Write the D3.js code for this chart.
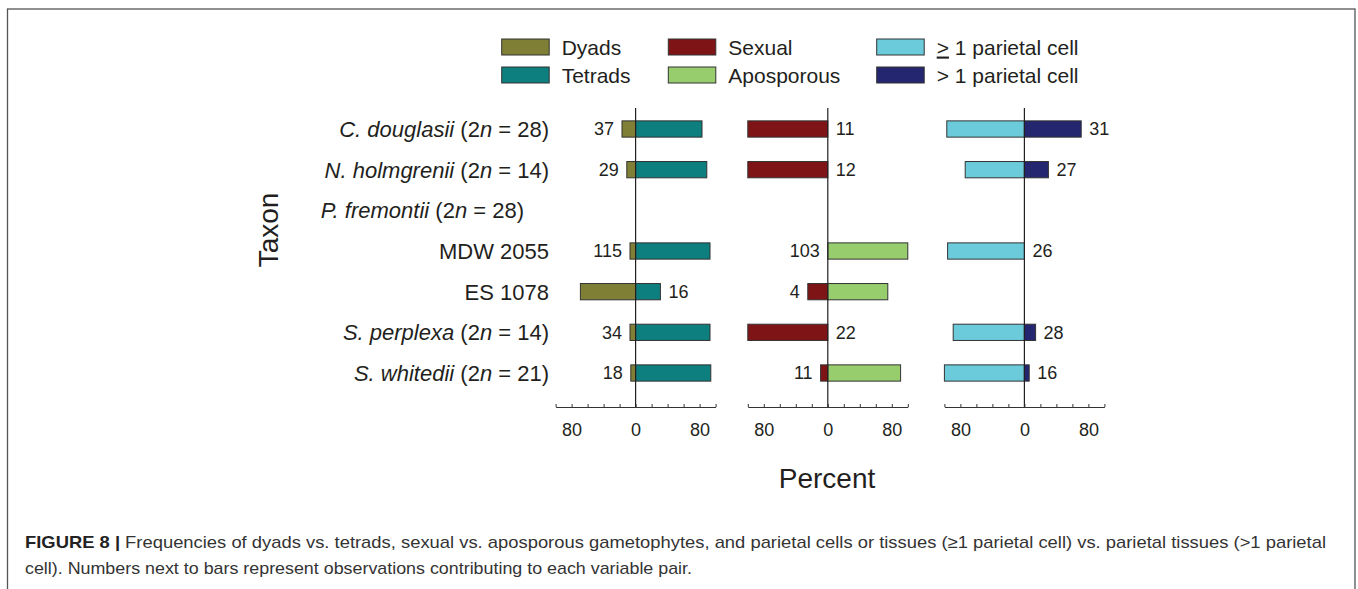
<!DOCTYPE html>
<html lang="en">
<head>
    <meta charset="UTF-8">
    <title>Figure 8</title>
    <script src="https://d3js.org/d3.v7.min.js"></script>
    <style>
        body {
            margin: 0;
            padding: 0;
            background: #fff;
            font-family: "Liberation Sans", Arial, sans-serif;
        }
        svg text {
            fill: #231f20;
        }
    </style>
</head>
<body>
    <svg id="chart" width="1358" height="589"></svg>

    <script>
        // data (percent per taxon)
        const taxa = ['C. douglasii', 'N. holmgrenii', 'P. fremontii', 'MDW 2055', 'ES 1078', 'S. perplexa', 'S. whitedii'];
        const ploidy = ['28', '14', '28', null, null, '14', '21'];
        const italicName = [true, true, true, false, false, true, true];

        const dyads      = [17, 11, null, 7, 69, 7, 6];
        const tetrads    = [83, 89, null, 93, 31, 93, 94];
        const sexual     = [100, 100, null, 0, 25, 100, 9];
        const aposporous = [0, 0, null, 100, 75, 0, 91];
        const geOneCell  = [97, 74, null, 96, null, 89, 100];
        const gtOneCell  = [71, 30, null, 0, null, 14, 6];

        // observation counts and which side of the bar they sit on
        const counts1 = [37, 29, null, 115, 16, 34, 18];
        const sides1  = ['left', 'left', null, 'left', 'right', 'left', 'left'];
        const counts2 = [11, 12, null, 103, 4, 22, 11];
        const sides2  = ['right', 'right', null, 'left', 'left', 'right', 'left'];
        const counts3 = [31, 27, null, 26, null, 28, 16];
        const sides3  = ['right', 'right', null, 'right', null, 'right', 'right'];

        const tickValues = [-100, -80, -60, -40, -20, 0, 20, 40, 60, 80, 100];
        const labelledTicks = [-80, 0, 80];

        const legendItems = [
            {label: 'Dyads', color: '#7f7f35'},
            {label: 'Tetrads', color: '#0e7f7f'},
            {label: 'Sexual', color: '#7f1416'},
            {label: 'Aposporous', color: '#98cd6e'},
            {label: '1 parietal cell', color: '#6bcbdb', sign: '>', underline: true},
            {label: '1 parietal cell', color: '#24266f', sign: '>', underline: false}
        ];

        const panels = [
            {zero: 635.6, left: dyads, right: tetrads, leftColor: '#7f7f35', rightColor: '#0e7f7f', counts: counts1, sides: sides1},
            {zero: 827.8, left: sexual, right: aposporous, leftColor: '#7f1416', rightColor: '#98cd6e', counts: counts2, sides: sides2},
            {zero: 1024.4, left: geOneCell, right: gtOneCell, leftColor: '#6bcbdb', rightColor: '#24266f', counts: counts3, sides: sides3}
        ];

        const svg = d3.select('#chart');

        // figure frame
        svg.append('rect')
            .attr('x', 7.5).attr('y', 9)
            .attr('width', 1347.5).attr('height', 600)
            .attr('fill', 'none')
            .attr('stroke', '#555')
            .attr('stroke-width', 1.3);

        const axisY = 407;
        const y = d3.scaleBand()
            .domain(taxa)
            .range([108.67, 393.33])
            .paddingInner(0.6)
            .paddingOuter(0.3);

        // taxon labels
        const taxLabels = svg.append('g');
        taxa.forEach((t, i) => {
            const xEnd = t === 'P. fremontii' ? 524 : 549;
            const txt = taxLabels.append('text')
                .attr('x', xEnd)
                .attr('y', y(t) + y.bandwidth() / 2)
                .attr('dy', '0.36em')
                .attr('text-anchor', 'end')
                .style('font-size', '22px');
            txt.append('tspan').style('font-style', italicName[i] ? 'italic' : 'normal').text(t);
            if (ploidy[i]) {
                txt.append('tspan').text(' (2');
                txt.append('tspan').style('font-style', 'italic').text('n');
                txt.append('tspan').text(' = ' + ploidy[i] + ')');
            }
        });

        svg.append('text')
            .attr('transform', 'translate(268,230) rotate(-90)')
            .attr('text-anchor', 'middle')
            .attr('dy', '0.36em')
            .style('font-size', '28px')
            .text('Taxon');

        // panels
        panels.forEach(p => {
            const x = d3.scaleLinear().domain([-100, 100]).range([p.zero - 80, p.zero + 80]);
            const g = svg.append('g');

            const rows = taxa.map((t, i) => ({t, l: p.left[i], r: p.right[i], n: p.counts[i], side: p.sides[i]}));

            g.selectAll('rect.left')
                .data(rows.filter(d => d.l))
                .enter().append('rect')
                .attr('x', d => x(-d.l))
                .attr('y', d => y(d.t))
                .attr('width', d => x(0) - x(-d.l))
                .attr('height', y.bandwidth())
                .attr('fill', p.leftColor)
                .attr('stroke', '#333')
                .attr('stroke-width', 1);

            g.selectAll('rect.right')
                .data(rows.filter(d => d.r))
                .enter().append('rect')
                .attr('x', x(0))
                .attr('y', d => y(d.t))
                .attr('width', d => x(d.r) - x(0))
                .attr('height', y.bandwidth())
                .attr('fill', p.rightColor)
                .attr('stroke', '#333')
                .attr('stroke-width', 1);

            // count labels
            g.selectAll('text.count')
                .data(rows.filter(d => d.n != null))
                .enter().append('text')
                .attr('x', d => d.side === 'left' ? x(-(d.l || 0)) - 8 : x(d.r || 0) + 8)
                .attr('y', d => y(d.t) + y.bandwidth() / 2)
                .attr('dy', '0.36em')
                .attr('text-anchor', d => d.side === 'left' ? 'end' : 'start')
                .style('font-size', '18px')
                .text(d => d.n);

            // zero line
            g.append('line')
                .attr('x1', x(0)).attr('x2', x(0))
                .attr('y1', 108).attr('y2', axisY)
                .attr('stroke', '#231f20')
                .attr('stroke-width', 1.2);

            const axis = d3.axisBottom(x)
                .tickValues(tickValues)
                .tickSize(-3)
                .tickSizeOuter(0)
                .tickPadding(16)
                .tickFormat(v => labelledTicks.includes(v) ? Math.abs(v) : '');

            const ax = g.append('g')
                .attr('transform', `translate(0,${axisY})`)
                .call(axis);
            ax.select('.domain').attr('stroke', '#333');
            ax.selectAll('.tick line').attr('stroke', '#333');
            ax.selectAll('.tick text')
                .style('font-size', '18px')
                .style('font-family', '"Liberation Sans", Arial, sans-serif')
                .attr('fill', '#231f20');
        });

        svg.append('text')
            .attr('x', 827)
            .attr('y', 478)
            .attr('dy', '0.36em')
            .attr('text-anchor', 'middle')
            .style('font-size', '28px')
            .text('Percent');

        // legend
        const legendCols = [501.7, 668.3, 876.7];
        const legendRows = [39, 67];
        const legend = svg.append('g');
        legendItems.forEach((item, i) => {
            const cx = legendCols[Math.floor(i / 2)];
            const ry = legendRows[i % 2];
            legend.append('rect')
                .attr('x', cx).attr('y', ry)
                .attr('width', 47.5).attr('height', 16)
                .attr('fill', item.color)
                .attr('stroke', '#333')
                .attr('stroke-width', 1);
            const txt = legend.append('text')
                .attr('x', cx + 60)
                .attr('y', ry + 8)
                .attr('dy', '0.36em')
                .style('font-size', '21px');
            if (item.sign) {
                txt.append('tspan')
                    .style('text-decoration', item.underline ? 'underline' : 'none')
                    .text(item.sign);
                txt.append('tspan').text(' ' + item.label);
            } else {
                txt.text(item.label);
            }
        });

        // caption
        const caption = svg.append('g').style('font-size', '17px');
        const line1 = caption.append('text')
            .attr('x', 25).attr('y', 548)
            .attr('textLength', 1301)
            .attr('lengthAdjust', 'spacingAndGlyphs')
            .style('fill', '#333');
        line1.append('tspan').style('font-weight', 'bold').style('fill', '#222').text('FIGURE 8 |');
        line1.append('tspan').text(' Frequencies of dyads vs. tetrads, sexual vs. aposporous gametophytes, and parietal cells or tissues (\u22651 parietal cell) vs. parietal tissues (>1 parietal');
        caption.append('text')
            .attr('x', 25).attr('y', 574)
            .attr('textLength', 667)
            .attr('lengthAdjust', 'spacingAndGlyphs')
            .style('fill', '#333')
            .text('cell). Numbers next to bars represent observations contributing to each variable pair.');
    </script>
</body>
</html>
